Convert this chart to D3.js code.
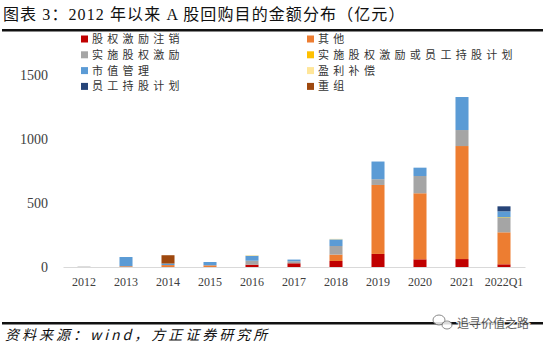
<!DOCTYPE html>
<html>
<head>
<meta charset="utf-8">
<script src="https://cdn.jsdelivr.net/npm/d3@7"></script>
<style>
  body { margin: 0; background: #fff; }
  svg { display: block; }
</style>
</head>
<body>
<svg id="chart" width="550" height="348"></svg>
<script>
const categories = ["2012", "2013", "2014", "2015", "2016", "2017", "2018", "2019", "2020", "2021", "2022Q1"];

const seriesNames = ["股权激励注销", "其他", "实施股权激励", "实施股权激励或员工持股计划",
                     "市值管理", "盈利补偿", "员工持股计划", "重组"];
const seriesColors = ["#C00000", "#ED7D31", "#A5A5A5", "#FFC000",
                      "#5B9BD5", "#FFE699", "#264478", "#9E480E"];

// 亿元
const cancelValues   = [0, 0, 0, 0, 18, 29, 47, 102, 60, 62, 21];
const otherValues    = [0, 6, 15, 13, 0, 0, 50, 539, 516, 883, 250];
const incentValues   = [3, 0, 0, 0, 31, 16, 67, 45, 135, 125, 112];
const incOrEsopVals  = [0, 0, 0, 0, 0, 0, 0, 0, 0, 0, 5];
const marketValues   = [0, 72, 12, 26, 39, 13, 52, 138, 65, 258, 47];
const compensValues  = [0, 0, 0, 0, 5, 0, 4, 0, 0, 0, 0];
const esopValues     = [0, 0, 0, 0, 0, 0, 0, 0, 0, 0, 39];
const restructValues = [0, 0, 65, 0, 0, 0, 0, 0, 0, 0, 0];

const yTicks = [0, 500, 1000, 1500];

const allSeries = [cancelValues, otherValues, incentValues, incOrEsopVals,
                   marketValues, compensValues, esopValues, restructValues];

const table = categories.map((c, i) => {
    const row = { cat: c };
    seriesNames.forEach((s, k) => row[s] = allSeries[k][i]);
    return row;
});

const svg = d3.select("#chart");
const serif = "'Liberation Serif', 'Noto Sans CJK SC', serif";
const cjk = "'Noto Sans CJK SC', sans-serif";

// title
svg.append("text")
    .attr("x", 3).attr("y", 20)
    .attr("font-family", serif)
    .attr("font-size", 16)
    .attr("letter-spacing", 1.1)
    .attr("fill", "#111")
    .text("图表 3：2012 年以来 A 股回购目的金额分布（亿元）");

svg.append("rect").attr("x", 2).attr("y", 29).attr("width", 541).attr("height", 2.5).attr("fill", "#111");

// legend
const legend = svg.append("g");
seriesNames.forEach((s, k) => {
    const col = k % 2, row = Math.floor(k / 2);
    const lx = col === 0 ? 81 : 307;
    const ly = 39 + row * 15.8;
    legend.append("rect")
        .attr("x", lx).attr("y", ly - 3.5)
        .attr("width", 7).attr("height", 7)
        .attr("fill", seriesColors[k]);
    legend.append("text")
        .attr("x", lx + 11).attr("y", ly + 4)
        .attr("font-family", cjk)
        .attr("font-size", 11)
        .attr("letter-spacing", 4.3)
        .attr("fill", "#333")
        .text(s);
});

// scales
const x = d3.scaleBand().domain(categories).range([63, 525]).paddingInner(0.69).paddingOuter(0.345);
const y = d3.scaleLinear().domain([0, 1500]).range([267, 75]);

const stack = d3.stack().keys(seriesNames);
const layers = stack(table);

svg.append("g").selectAll("g")
    .data(layers)
    .join("g")
    .attr("fill", (d, k) => seriesColors[k])
    .selectAll("rect")
    .data(d => d)
    .join("rect")
    .attr("x", d => x(d.data.cat))
    .attr("width", x.bandwidth())
    .attr("y", d => y(d[1]))
    .attr("height", d => Math.max(0, y(d[0]) - y(d[1])));

// x axis
const xAxis = svg.append("g")
    .attr("transform", "translate(0,267)")
    .call(d3.axisBottom(x).tickSize(0).tickPadding(10));
xAxis.select(".domain").attr("stroke", "#d9d9d9").attr("stroke-width", 1);
xAxis.selectAll("text")
    .attr("font-family", serif)
    .attr("font-size", 12)
    .attr("fill", "#404040");

// y axis
const yAxis = svg.append("g")
    .attr("transform", "translate(48,0)")
    .call(d3.axisLeft(y).tickValues(yTicks).tickFormat(d3.format("d")).tickSize(0).tickPadding(0));
yAxis.select(".domain").remove();
yAxis.selectAll("text")
    .attr("font-family", serif)
    .attr("font-size", 14)
    .attr("fill", "#404040");

// footer
svg.append("rect").attr("x", 2).attr("y", 322).attr("width", 541).attr("height", 2.5).attr("fill", "#111");
svg.append("text")
    .attr("x", 5).attr("y", 340)
    .attr("font-family", cjk)
    .attr("font-style", "italic")
    .attr("font-size", 14)
    .attr("letter-spacing", 3)
    .attr("fill", "#111")
    .text("资料来源：wind，方正证券研究所");

// watermark
const wm = svg.append("g").attr("opacity", 0.85);
wm.append("ellipse").attr("cx", 439).attr("cy", 320).attr("rx", 6).attr("ry", 5)
    .attr("fill", "#fff").attr("stroke", "#777").attr("stroke-width", 1);
wm.append("ellipse").attr("cx", 447).attr("cy", 325).attr("rx", 5).attr("ry", 4)
    .attr("fill", "#fff").attr("stroke", "#777").attr("stroke-width", 1);
wm.append("text")
    .attr("x", 457).attr("y", 328)
    .attr("font-family", cjk)
    .attr("font-size", 12)
    .attr("fill", "#444")
    .attr("stroke", "#fff").attr("stroke-width", 2.5).attr("paint-order", "stroke")
    .text("追寻价值之路");
</script>
</body>
</html>
